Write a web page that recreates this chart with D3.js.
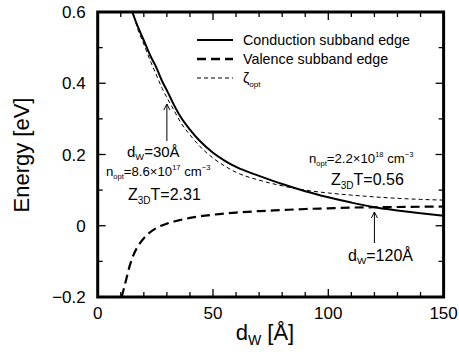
<!DOCTYPE html>
<html>
<head>
<meta charset="utf-8">
<script src="https://cdn.jsdelivr.net/npm/d3@7"></script>
<style>
  body { margin: 0; background: #fff; }
  svg { font-family: "Liberation Sans", Arial, sans-serif; }
</style>
</head>
<body>
<div id="chart"></div>
<script>
"use strict"

// well width in angstrom and energies in eV
var condD = [15, 17, 20, 23, 25, 28, 30, 33, 36, 40, 44, 50, 55, 60, 70, 80, 90, 100, 110, 120, 130, 140, 150];
var condE = [0.60, 0.565, 0.52, 0.475, 0.45, 0.405, 0.38, 0.34, 0.305, 0.27, 0.24, 0.205, 0.183, 0.165, 0.14, 0.117, 0.097, 0.08, 0.065, 0.052, 0.043, 0.035, 0.028];
var valD = [10.4, 12, 14, 16, 18, 20, 22, 25, 30, 35, 40, 50, 60, 70, 80, 90, 100, 110, 120, 135, 150];
var valE = [-0.2, -0.16, -0.11, -0.075, -0.052, -0.035, -0.022, -0.008, 0.006, 0.015, 0.022, 0.031, 0.037, 0.041, 0.044, 0.047, 0.049, 0.051, 0.052, 0.053, 0.054];
var zetaD = [15, 17, 20, 23, 25, 28, 30, 33, 36, 40, 44, 50, 55, 60, 70, 80, 90, 100, 110, 120, 130, 140, 150];
var zetaE = [0.61, 0.56, 0.51, 0.46, 0.43, 0.385, 0.36, 0.325, 0.29, 0.255, 0.225, 0.19, 0.168, 0.15, 0.128, 0.112, 0.1, 0.092, 0.086, 0.081, 0.077, 0.074, 0.072];

var xTicks = [0, 50, 100, 150];
var yTicks = [-0.2, 0, 0.2, 0.4, 0.6];
var yTickLabels = ["\u22120.2", "0", "0.2", "0.4", "0.6"];

var legendNames = ["Conduction subband edge", "Valence subband edge", "\u03B6"];

var W = 459, H = 356;
var margin = {top: 12, right: 15.4, bottom: 59, left: 97.7};
var width = W - margin.left - margin.right;
var height = H - margin.top - margin.bottom;

var svg = d3.select("#chart").append("svg")
    .attr("width", W)
    .attr("height", H);

var g = svg.append("g")
    .attr("transform", "translate(" + margin.left + "," + margin.top + ")");

var x = d3.scaleLinear().domain([0, 150]).range([0, width]);
var y = d3.scaleLinear().domain([-0.2, 0.6]).range([height, 0]);

g.append("clipPath").attr("id", "clip")
    .append("rect").attr("width", width).attr("height", height);

// ticks, inward on all four sides
var xMinor = d3.range(10, 150, 10).filter(function(d) { return d % 50 != 0; });
var yMinor = [-0.1, 0.1, 0.3, 0.5];

function drawTicks() {
    var t = g.append("g").attr("stroke", "#000").attr("stroke-width", 1.3);
    xTicks.concat(xMinor).forEach(function(d) {
        var len = xTicks.indexOf(d) >= 0 ? 8 : 5;
        t.append("line").attr("x1", x(d)).attr("x2", x(d)).attr("y1", height).attr("y2", height - len);
        t.append("line").attr("x1", x(d)).attr("x2", x(d)).attr("y1", 0).attr("y2", len);
    });
    yTicks.concat(yMinor).forEach(function(d) {
        var len = yTicks.indexOf(d) >= 0 ? 8 : 5;
        t.append("line").attr("y1", y(d)).attr("y2", y(d)).attr("x1", 0).attr("x2", len);
        t.append("line").attr("y1", y(d)).attr("y2", y(d)).attr("x1", width).attr("x2", width - len);
    });
}
drawTicks();

// tick labels
g.selectAll(".xl").data(xTicks).enter().append("text")
    .attr("x", function(d) { return x(d); })
    .attr("y", height + 22)
    .attr("text-anchor", "middle")
    .attr("font-size", 17)
    .text(function(d) { return d; });
g.selectAll(".yl").data(yTicks).enter().append("text")
    .attr("x", -12)
    .attr("y", function(d) { return y(d) + 6; })
    .attr("text-anchor", "end")
    .attr("font-size", 17)
    .text(function(d, i) { return yTickLabels[i]; });

// axis titles
var xt = svg.append("text")
    .attr("x", 265).attr("y", 340)
    .attr("text-anchor", "middle")
    .attr("font-size", 22);
xt.append("tspan").text("d");
xt.append("tspan").attr("font-size", 14).attr("dy", 5).text("W");
xt.append("tspan").attr("dy", -5).text(" [\u00C5]");

svg.append("text")
    .attr("transform", "translate(29,155) rotate(-90)")
    .attr("text-anchor", "middle")
    .attr("font-size", 22)
    .text("Energy [eV]");

// curves
var line = d3.line().curve(d3.curveMonotoneX)
    .x(function(d) { return x(d[0]); })
    .y(function(d) { return y(d[1]); });

var curves = g.append("g").attr("clip-path", "url(#clip)").attr("fill", "none").attr("stroke", "#000");
curves.append("path")
    .attr("d", line(d3.zip(zetaD, zetaE)))
    .attr("stroke-width", 1)
    .attr("stroke-dasharray", "4,3");
curves.append("path")
    .attr("d", line(d3.zip(valD, valE)))
    .attr("stroke-width", 2.2)
    .attr("stroke-dasharray", "9,5");
curves.append("path")
    .attr("d", line(d3.zip(condD, condE)))
    .attr("stroke-width", 2);

// frame
g.append("rect")
    .attr("width", width).attr("height", height)
    .attr("fill", "none").attr("stroke", "#000").attr("stroke-width", 3);

// legend
var legStyles = [{w: 2, dash: null}, {w: 2.5, dash: "9,5"}, {w: 1, dash: "4,3"}];
legendNames.forEach(function(name, i) {
    var ly = 40 + i * 19;
    svg.append("line")
        .attr("x1", 197).attr("x2", 233).attr("y1", ly).attr("y2", ly)
        .attr("stroke", "#000").attr("stroke-width", legStyles[i].w)
        .attr("stroke-dasharray", legStyles[i].dash);
    var t = svg.append("text").attr("x", 243).attr("y", ly + 5).attr("font-size", 14.3);
    t.append("tspan").text(name);
    if (i == 2) t.append("tspan").attr("font-size", 8).attr("dy", 4).text("opt");
});

// annotations
function arrow(xv, y1, y2) {
    svg.append("line").attr("x1", xv).attr("x2", xv).attr("y1", y1).attr("y2", y2)
        .attr("stroke", "#000").attr("stroke-width", 1);
    svg.append("path")
        .attr("d", "M" + (xv - 3) + "," + (y1 + 6) + "L" + xv + "," + y1 + "L" + (xv + 3) + "," + (y1 + 6))
        .attr("fill", "none").attr("stroke", "#000").attr("stroke-width", 1);
}
arrow(margin.left + x(30), 104, 141);
arrow(margin.left + x(120), 212, 243);

function dwText(xp, yp, val, fs) {
    var t = svg.append("text").attr("x", xp).attr("y", yp).attr("font-size", fs);
    t.append("tspan").text("d");
    t.append("tspan").attr("font-size", fs * 0.62).attr("dy", 3).text("W");
    t.append("tspan").attr("dy", -3).text("=" + val + "\u00C5");
}
function noptText(xp, yp, mant, exp) {
    var t = svg.append("text").attr("x", xp).attr("y", yp).attr("font-size", 13.2);
    t.append("tspan").text("n");
    t.append("tspan").attr("font-size", 7.5).attr("dy", 3).text("opt");
    t.append("tspan").attr("dy", -3).text("=" + mant + "\u00D710");
    t.append("tspan").attr("font-size", 7.5).attr("dy", -6).text(exp);
    t.append("tspan").attr("dy", 6).text(" cm");
    t.append("tspan").attr("font-size", 7.5).attr("dy", -6).text("\u22123");
}
function zText(xp, yp, val) {
    var t = svg.append("text").attr("x", xp).attr("y", yp).attr("font-size", 16);
    t.append("tspan").text("Z");
    t.append("tspan").attr("font-size", 10).attr("dy", 4).text("3D");
    t.append("tspan").attr("dy", -4).text("T=" + val);
}
dwText(127, 157, 30, 15);
noptText(106, 176, "8.6", "17");
zText(128, 200, "2.31");
noptText(309, 163, "2.2", "18");
zText(331, 185, "0.56");
dwText(348, 261, 120, 16);
</script>
</body>
</html>
